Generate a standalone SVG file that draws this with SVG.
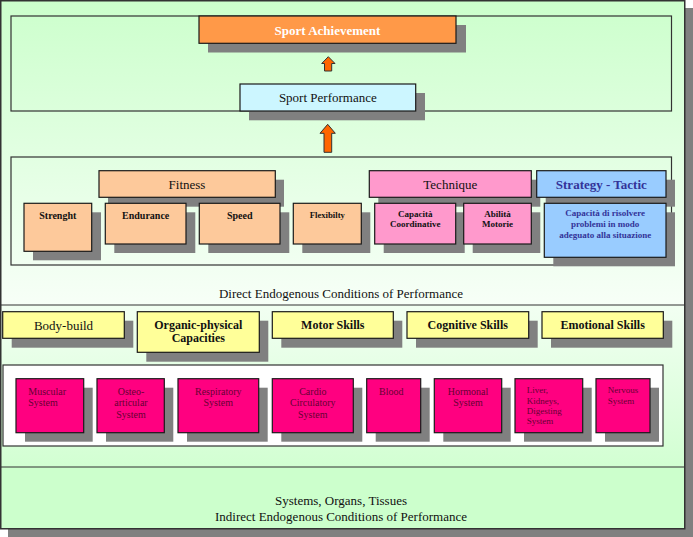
<svg xmlns="http://www.w3.org/2000/svg" width="693" height="537" viewBox="0 0 693 537">
<defs>
<linearGradient id="gTop" x1="0" y1="0" x2="0" y2="1">
<stop offset="0" stop-color="#ccffcc"/>
<stop offset="1" stop-color="#f7fff7"/>
</linearGradient>
<linearGradient id="gMid" x1="0" y1="0" x2="0" y2="1">
<stop offset="0" stop-color="#f2fff2"/>
<stop offset="1" stop-color="#d2ffd2"/>
</linearGradient>
<style>
text{font-family:"Liberation Serif","Times New Roman",serif;}
.sh{fill:#808080;}
.bx{stroke:#1a1a1a;stroke-width:1.2;}
.frame{fill:none;stroke:#333333;stroke-width:1.2;}
.orange{fill:#ff9948;}
.cyan{fill:#ccf6ff;}
.peach{fill:#fdc99b;}
.pink{fill:#ff99cc;}
.blue{fill:#99ccff;}
.yellow{fill:#ffff99;}
.mag{fill:#ff0080;}
.t13{font-size:13px;fill:#111111;text-anchor:middle;}
.b10{font-size:10px;font-weight:bold;fill:#111111;text-anchor:middle;}
.b9{font-size:9px;font-weight:bold;fill:#111111;text-anchor:middle;}
.b12{font-size:12px;font-weight:bold;fill:#111111;text-anchor:middle;}
.nv{fill:#333399;}
.m10{font-size:10px;fill:#660033;}
.m9{font-size:9px;fill:#660033;}
.c{text-anchor:middle;}
.arrow{fill:#ff6600;stroke:#333333;stroke-width:1;}
</style>
</defs>

<!-- background frame -->
<rect x="8" y="8" width="685" height="529" class="sh"/>
<rect x="0" y="0" width="685" height="305" fill="url(#gTop)"/>
<rect x="0" y="305" width="685" height="162" fill="url(#gMid)"/>
<rect x="0" y="467" width="685" height="62" fill="#ccffcc"/>
<rect x="0.75" y="0.75" width="684" height="528" fill="none" stroke="#333333" stroke-width="1.5"/>
<line x1="0" y1="305" x2="685" y2="305" stroke="#333333" stroke-width="1.2"/>
<line x1="0" y1="467" x2="685" y2="467" stroke="#333333" stroke-width="1.2"/>

<!-- section frames -->
<rect x="11" y="16" width="660.5" height="95" class="frame"/>
<rect x="11" y="157" width="660.5" height="108" class="frame"/>
<rect x="3" y="365" width="660" height="81" fill="#ffffff" stroke="#333333" stroke-width="1.2"/>

<text x="341" y="298" class="t13">Direct Endogenous Conditions of Performance</text>
<text x="341" y="505" class="t13">Systems, Organs, Tissues</text>
<text x="341" y="520.5" class="t13">Indirect Endogenous Conditions of Performance</text>

<!-- connectors -->
<g id="connectors">
<polygon class="arrow" points="328.3,56.7 335,63.5 331.7,63.5 331.7,71 324.5,71 324.5,63.5 321.7,63.5"/>
<polygon class="arrow" points="327.7,124.3 335.3,133.3 331.7,133.3 331.7,152.3 324,152.3 324,133.3 320,133.3"/>
</g>

<!-- top -->
<g id="sport-achievement">
<rect x="208" y="25" width="258" height="27.5" class="sh"/>
<rect x="199" y="16" width="257" height="27.3" class="bx orange"/>
<text x="327.5" y="34.5" class="c" style="font-size:13px;font-weight:bold;fill:#ffffff">Sport Achievement</text>
</g>
<g id="sport-performance">
<rect x="249" y="93" width="176" height="27.3" class="sh"/>
<rect x="240" y="84" width="175.7" height="27" class="bx cyan"/>
<text x="327.8" y="102" class="t13">Sport Performance</text>
</g>

<!-- fitness -->
<g id="fitness">
<rect x="108" y="179.7" width="176" height="27" class="sh"/>
<rect x="99" y="170.7" width="176.3" height="26.6" class="bx peach"/>
<text x="187" y="188.5" class="t13">Fitness</text>
</g>
<g id="strenght">
<rect x="33" y="212.3" width="68" height="48" class="sh"/>
<rect x="24" y="203.3" width="67.7" height="48" class="bx peach"/>
<text x="57.8" y="219" class="b10">Strenght</text>
</g>
<g id="endurance">
<rect x="114.3" y="212.3" width="81" height="40.7" class="sh"/>
<rect x="105.3" y="203.3" width="80.7" height="40.7" class="bx peach"/>
<text x="145.7" y="219" class="b10">Endurance</text>
</g>
<g id="speed">
<rect x="208.3" y="212.3" width="81" height="40.7" class="sh"/>
<rect x="199.3" y="203.3" width="80.7" height="40.7" class="bx peach"/>
<text x="239.7" y="219" class="b10">Speed</text>
</g>
<g id="flexibilty">
<rect x="302.3" y="212.3" width="68" height="40.7" class="sh"/>
<rect x="293.3" y="203.3" width="68" height="40.7" class="bx peach"/>
<text x="327.3" y="217.5" class="b9" style="font-size:8.7px">Flexibilty</text>
</g>

<!-- technique -->
<g id="technique">
<rect x="378.3" y="179.7" width="162" height="27" class="sh"/>
<rect x="369.3" y="170.7" width="162" height="26.6" class="bx pink"/>
<text x="450.3" y="188.5" class="t13">Technique</text>
</g>
<g id="capacita-coordinative">
<rect x="383.7" y="212.3" width="81" height="40.7" class="sh"/>
<rect x="374.7" y="203.3" width="81" height="40.7" class="bx pink"/>
<text x="415.2" y="216.5" class="b9">Capacità</text>
<text x="415.2" y="227.2" class="b9">Coordinative</text>
</g>
<g id="abilita-motorie">
<rect x="472.7" y="212.3" width="67.6" height="40.7" class="sh"/>
<rect x="463.7" y="203.3" width="67.6" height="40.7" class="bx pink"/>
<text x="497.5" y="216.5" class="b9">Abilità</text>
<text x="497.5" y="227.2" class="b9">Motorie</text>
</g>

<!-- strategy -->
<g id="strategy-tactic">
<rect x="545.7" y="179.7" width="129.3" height="27" class="sh"/>
<rect x="536.7" y="170.7" width="129.3" height="26.6" class="bx blue"/>
<text x="601.3" y="188.5" class="t13 nv" style="font-weight:bold">Strategy - Tactic</text>
</g>
<g id="capacita-risolvere">
<rect x="553.3" y="212.3" width="121.7" height="54" class="sh"/>
<rect x="544.3" y="203.3" width="121.7" height="54" class="bx blue"/>
<text x="605.2" y="215.5" class="b9 nv">Capacità di risolvere</text>
<text x="605.2" y="226.5" class="b9 nv">problemi in modo</text>
<text x="605.2" y="237.5" class="b9 nv">adeguato alla situazione</text>
</g>

<!-- yellow row -->
<g id="body-build">
<rect x="11.7" y="320.7" width="121.6" height="27" class="sh"/>
<rect x="2.7" y="311.7" width="121.6" height="26.6" class="bx yellow"/>
<text x="63.5" y="329.5" class="t13">Body-build</text>
</g>
<g id="organic-physical">
<rect x="146.3" y="320.7" width="122" height="41" class="sh"/>
<rect x="137.3" y="311.7" width="122" height="40.6" class="bx yellow"/>
<text x="198.3" y="328.5" class="b12">Organic-physical</text>
<text x="198.3" y="342.3" class="b12">Capacities</text>
</g>
<g id="motor-skills">
<rect x="281.3" y="320.7" width="121" height="27" class="sh"/>
<rect x="272.3" y="311.7" width="121" height="26.6" class="bx yellow"/>
<text x="332.8" y="329.3" class="b12">Motor Skills</text>
</g>
<g id="cognitive-skills">
<rect x="416" y="320.7" width="121.7" height="27" class="sh"/>
<rect x="407" y="311.7" width="121.7" height="26.6" class="bx yellow"/>
<text x="467.8" y="329.3" class="b12">Cognitive Skills</text>
</g>
<g id="emotional-skills">
<rect x="551" y="320.7" width="121.3" height="27" class="sh"/>
<rect x="542" y="311.7" width="121.3" height="26.6" class="bx yellow"/>
<text x="602.7" y="329.3" class="b12">Emotional Skills</text>
</g>

<!-- systems row -->
<g id="muscular">
<rect x="25" y="387.7" width="67.7" height="54" class="sh"/>
<rect x="16" y="378.7" width="67.7" height="54" class="bx mag"/>
<text x="28.3" y="395" class="m10">Muscular</text>
<text x="28.3" y="406.3" class="m10">System</text>
</g>
<g id="osteo-articular">
<rect x="106" y="387.7" width="67.3" height="54" class="sh"/>
<rect x="97" y="378.7" width="67.3" height="54" class="bx mag"/>
<text x="131" y="395" class="m10 c">Osteo-</text>
<text x="131" y="406.3" class="m10 c">articular</text>
<text x="131" y="417.6" class="m10 c">System</text>
</g>
<g id="respiratory">
<rect x="187" y="387.7" width="80.7" height="54" class="sh"/>
<rect x="178" y="378.7" width="80.7" height="54" class="bx mag"/>
<text x="218.3" y="395" class="m10 c">Respiratory</text>
<text x="218.3" y="406.3" class="m10 c">System</text>
</g>
<g id="cardio-circulatory">
<rect x="281.3" y="387.7" width="81" height="54" class="sh"/>
<rect x="272.3" y="378.7" width="81" height="54" class="bx mag"/>
<text x="312.8" y="395" class="m10 c">Cardio</text>
<text x="312.8" y="406.3" class="m10 c">Circulatory</text>
<text x="312.8" y="417.6" class="m10 c">System</text>
</g>
<g id="blood">
<rect x="375.7" y="387.7" width="54" height="54" class="sh"/>
<rect x="366.7" y="378.7" width="54" height="54" class="bx mag"/>
<text x="379" y="395" class="m10">Blood</text>
</g>
<g id="hormonal">
<rect x="443.3" y="387.7" width="67.4" height="54" class="sh"/>
<rect x="434.3" y="378.7" width="67.4" height="54" class="bx mag"/>
<text x="468" y="395" class="m10 c">Hormonal</text>
<text x="468" y="406.3" class="m10 c">System</text>
</g>
<g id="liver-kidneys">
<rect x="524" y="387.7" width="67.7" height="54" class="sh"/>
<rect x="515" y="378.7" width="67.7" height="54" class="bx mag"/>
<text x="526.7" y="393.3" class="m9">Liver,</text>
<text x="526.7" y="403.6" class="m9">Kidneys,</text>
<text x="526.7" y="413.9" class="m9">Digesting</text>
<text x="526.7" y="424.2" class="m9">System</text>
</g>
<g id="nervous">
<rect x="605" y="387.7" width="54" height="54" class="sh"/>
<rect x="596" y="378.7" width="54" height="54" class="bx mag"/>
<text x="607.7" y="393.3" class="m9">Nervous</text>
<text x="607.7" y="403.6" class="m9">System</text>
</g>
</svg>
